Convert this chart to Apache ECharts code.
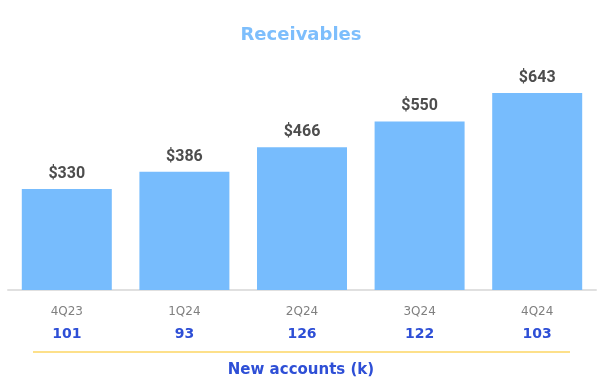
<!DOCTYPE html>
<html><head><meta charset="utf-8">
<script src="https://cdn.jsdelivr.net/npm/echarts@6/dist/echarts.min.js"></script>
<style>html,body{margin:0;padding:0;background:#fff}#c{width:602px;height:383px}</style>
</head><body><div id="c"></div>
<script>
const quarters = ['4Q23','1Q24','2Q24','3Q24','4Q24'];
const receivables = [330, 386, 466, 550, 643];
const newAccounts = [101, 93, 126, 122, 103];
const titleText = 'Receivables';
const footerText = 'New accounts (k)';

const chart = echarts.init(document.getElementById('c'));
chart.setOption({
  animation: false,
  title: [{
    text: titleText, left: 'center', top: 21,
    textStyle: {color: '#7dbefc', fontSize: 18, fontWeight: 'bold', fontFamily: 'DejaVu Sans'}
  }, {
    text: footerText, left: 'center', top: 358,
    textStyle: {color: '#2e4fd6', fontSize: 15, fontWeight: 'bold', fontFamily: 'DejaVu Sans'}
  }],
  grid: {left: 8, right: 6, top: 75.5, bottom: 93},
  xAxis: [{
    type: 'category', data: quarters,
    axisLine: {lineStyle: {color: '#e0e0e0', width: 2}},
    axisTick: {show: false},
    axisLabel: {color: '#808080', fontSize: 12, fontFamily: 'DejaVu Sans', margin: 16}
  }, {
    type: 'category', data: newAccounts, position: 'bottom',
    axisLine: {show: false}, axisTick: {show: false},
    axisLabel: {color: '#2e4fd6', fontSize: 14, fontWeight: 'bold', fontFamily: 'DejaVu Sans', margin: 37}
  }],
  yAxis: {type: 'value', min: 0, max: 700, show: false, splitLine: {show: false}},
  graphic: [{
    type: 'line', shape: {x1: 33, y1: 352, x2: 570, y2: 352},
    style: {stroke: '#fde08a', lineWidth: 2}
  }],
  series: [{
    type: 'bar', data: receivables, barWidth: 90,
    itemStyle: {color: '#77bcfd'},
    label: {show: true, position: 'top', distance: 7, formatter: p => '$' + p.value,
      color: '#4d4d4d', fontSize: 16, fontWeight: 'bold', fontFamily: 'Roboto'}
  }]
});
</script></body></html>
